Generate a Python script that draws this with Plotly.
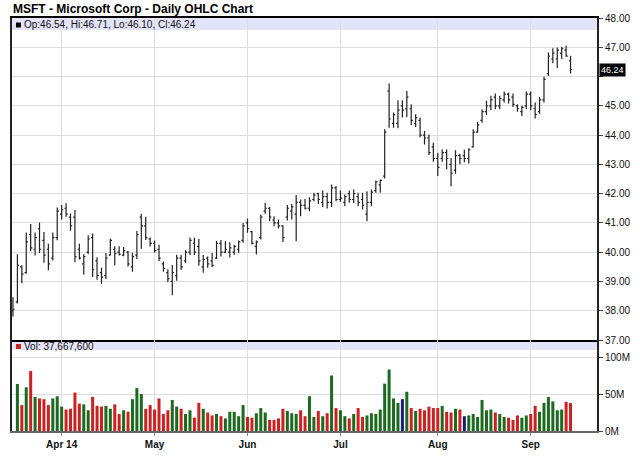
import pandas as pd
import plotly.graph_objects as go

# ---------------- data ----------------
holidays = ["2014-04-18", "2014-05-26", "2014-07-04", "2014-09-01"]
days = [d.strftime("%Y-%m-%d") for d in pd.bdate_range("2014-03-17", "2014-09-15")
        if d.strftime("%Y-%m-%d") not in holidays]

open_ = [38.0, 38.3, 39.5, 39.3, 40.6, 40.1, 40.8, 40.4, 40.1, 39.8,
         40.5, 41.3, 41.5, 41.2, 41.2, 40.1, 39.6, 40.0, 40.5, 39.7,
         39.3, 39.2, 39.9, 40.1, 40.0, 39.9, 40.0, 39.5, 39.9, 41.2,
         40.9, 40.45, 40.3, 40.1, 39.6, 39.3, 39.0, 39.2, 39.8, 39.7,
         40.0, 40.3, 40.2, 39.5, 39.8, 39.7, 39.8, 40.3, 40.0, 40.0,
         40.0, 40.1, 40.4, 41.0, 40.7, 40.2, 40.5, 41.4, 41.5, 41.1,
         41.0, 40.9, 41.2, 41.4, 41.3, 41.7, 41.6, 41.5, 41.8, 42.0,
         41.7, 41.9, 41.7, 42.2, 41.8, 41.7, 42.0, 41.8, 41.9, 41.8,
         41.3, 41.7, 42.1, 42.3, 42.6, 45.5, 44.4, 44.4, 45.0, 44.9,
         44.9, 44.4, 44.5, 44.0, 43.9, 43.6, 43.2, 43.2, 43.4, 43.0,
         42.8, 43.3, 43.3, 43.2, 43.6, 44.1, 44.5, 44.8, 45.0, 45.3,
         45.0, 45.2, 45.4, 45.3, 45.0, 44.8, 45.0, 45.4, 44.9, 44.8,
         45.2, 46.1, 46.6, 46.6, 46.8, 46.9, 46.54]

high = [38.46, 39.93, 39.55, 40.67, 40.96, 40.67, 41.01, 40.69, 40.29, 40.67,
        41.53, 41.61, 41.67, 41.32, 41.44, 40.29, 39.93, 40.58, 40.64, 39.83,
        39.47, 39.97, 40.47, 40.20, 40.20, 40.18, 40.04, 39.98, 40.72, 41.31,
        41.21, 40.50, 40.40, 40.25, 39.68, 39.42, 39.56, 39.91, 39.91, 40.07,
        40.50, 40.49, 40.45, 39.90, 39.85, 39.97, 40.38, 40.42, 40.37, 40.34,
        40.25, 40.40, 41.00, 41.15, 40.72, 40.40, 41.29, 41.69, 41.54, 41.23,
        41.12, 40.92, 41.61, 41.65, 41.95, 41.80, 41.82, 41.88, 42.03, 42.03,
        42.11, 42.03, 42.31, 42.26, 42.11, 41.97, 42.10, 42.14, 42.03, 42.03,
        42.08, 42.14, 42.45, 42.48, 44.20, 45.76, 44.77, 45.19, 45.19, 45.51,
        45.05, 44.71, 44.60, 44.14, 44.02, 43.74, 43.40, 43.51, 43.51, 43.22,
        43.48, 43.36, 43.50, 43.55, 44.20, 44.46, 44.88, 45.17, 45.34, 45.42,
        45.34, 45.49, 45.45, 45.42, 45.05, 45.00, 45.49, 45.49, 45.11, 45.30,
        45.99, 46.82, 46.97, 46.99, 47.02, 47.05, 46.71]

low = [37.80, 38.25, 38.94, 39.26, 40.03, 39.89, 39.97, 39.64, 39.38, 39.72,
       40.41, 41.12, 41.21, 40.73, 39.66, 39.75, 39.23, 39.93, 39.15, 39.06,
       38.92, 39.08, 39.89, 39.55, 39.89, 39.86, 39.51, 39.33, 39.77, 40.12,
       40.42, 40.19, 39.99, 39.70, 39.33, 38.98, 38.53, 39.02, 39.39, 39.64,
       39.90, 39.90, 39.54, 39.30, 39.47, 39.49, 39.77, 39.85, 39.97, 39.82,
       39.91, 39.98, 40.32, 40.66, 40.26, 39.92, 40.43, 41.31, 41.06, 40.89,
       40.81, 40.35, 41.08, 41.12, 40.37, 41.23, 41.46, 41.40, 41.74, 41.65,
       41.54, 41.49, 41.54, 41.74, 41.72, 41.57, 41.69, 41.68, 41.57, 41.46,
       41.06, 41.57, 42.03, 42.03, 42.52, 44.25, 44.25, 44.23, 44.60, 44.62,
       44.34, 44.28, 43.93, 43.68, 43.32, 43.09, 42.60, 43.09, 42.83, 42.25,
       42.68, 43.00, 43.07, 43.03, 43.57, 44.08, 44.42, 44.69, 44.85, 44.88,
       44.88, 45.11, 45.08, 44.96, 44.80, 44.65, 44.88, 44.85, 44.57, 44.73,
       45.11, 46.02, 46.45, 46.29, 46.60, 46.68, 46.10]

close = [38.05, 39.55, 39.25, 40.35, 40.15, 40.5, 40.1, 39.9, 39.6, 40.5,
         41.4, 41.45, 41.3, 40.9, 39.85, 39.8, 39.85, 40.45, 39.4, 39.2,
         39.15, 39.8, 40.4, 39.95, 39.93, 40.05, 39.6, 39.85, 40.6, 40.9,
         40.5, 40.3, 40.05, 39.8, 39.45, 39.1, 39.3, 39.8, 39.5, 40.0,
         40.4, 40.0, 39.7, 39.75, 39.6, 39.55, 40.3, 40.0, 40.1, 40.15,
         40.2, 40.35, 40.9, 40.8, 40.3, 40.35, 41.2, 41.5, 41.2, 41.0,
         40.9, 40.5, 41.5, 41.55, 41.7, 41.6, 41.5, 41.75, 41.95, 41.8,
         41.9, 41.7, 42.2, 41.8, 41.85, 41.9, 41.8, 42.0, 41.7, 41.6,
         41.7, 42.05, 42.4, 42.45, 44.1, 44.55, 44.7, 44.85, 44.85, 45.3,
         44.5, 44.6, 44.0, 43.9, 43.4, 43.2, 42.9, 43.4, 43.2, 42.7,
         43.3, 43.2, 43.2, 43.5, 44.1, 44.35, 44.8, 45.0, 45.2, 45.0,
         45.25, 45.4, 45.2, 45.05, 44.9, 44.95, 45.4, 45.0, 44.7, 45.2,
         45.9, 46.7, 46.8, 46.9, 46.95, 46.7, 46.24]

volume_m = [None, 63.6, 35, 59, 81, 46, 44, 43, 35, 44,
            47, 33, 29, 30, 52, 37, 36, 28, 46, 34,
            33, 34, 30, 36, 23, 28, 26, 43, 58, 50,
            30, 35, 29, 44, 23, 28, 42, 33, 30, 23,
            28, 18, 38, 30, 25, 21, 23, 20, 17, 26,
            26, 20, 35, 19, 18, 24, 31, 25, 15, 15,
            17, 30, 27, 24, 23, 28, 20, 47, 19, 27,
            20, 24, 75, 31, 28, 20, 17, 23, 31, 19,
            21, 24, 23, 29, 64, 83, 44, 38, 43, 53,
            31, 27, 30, 28, 33, 31, 31, 34, 26, 25,
            30, 29, 20, 21, 23, 19, 42, 28, 29, 25,
            23, 19, 18, 15, 21, 18, 21, 23, 34, 26,
            38, 46, 40, 28, 29, 39.5, 37.6676]
last_volume = 37667600

month_ticks = ["2014-04-01", "2014-05-01", "2014-06-02", "2014-07-01", "2014-08-01", "2014-09-02"]
month_labels = ["Apr 14", "May", "Jun", "Jul", "Aug", "Sep"]
price_ticks = [37, 38, 39, 40, 41, 42, 43, 44, 45, 46, 47, 48]
price_labels = ["37.00", "38.00", "39.00", "40.00", "41.00", "42.00", "43.00",
                "44.00", "45.00", "", "47.00", "48.00"]
vol_ticks = [0, 50, 100]
vol_labels = ["0M", "50M", "100M"]

assert len(days) == len(open_) == len(high) == len(low) == len(close) == len(volume_m) == 127

# ---------------- styling ----------------
GREEN, RED, NAVY = "#1b6a1f", "#cc2121", "#1a1a7a"
BAND = "#e4e4f8"
GRID = "#dddddd"
FONT = "Liberation Sans, Arial, sans-serif"

vol_colors = [NAVY]
for i in range(1, len(close)):
    if close[i] > close[i - 1]:
        vol_colors.append(GREEN)
    elif close[i] < close[i - 1]:
        vol_colors.append(RED)
    else:
        vol_colors.append(NAVY)

W, H = 640, 468
L, R, T, B = 10, 601, 18, 431          # plot area in pixels
SPLIT = 340                            # pixel row between the two panels
PW, PH = R - L, B - T


def px_x(p):
    return (p - L) / PW


def px_y(p):
    return (B - p) / PH


split_frac = px_y(SPLIT)
vol_top = 100 * (B - SPLIT) / (B - 357)   # 100M sits at y=357
band_bottom_vol = vol_top * (B - 350) / (B - SPLIT)
n_span = 132.2
x_range = [-0.22, -0.22 + n_span]

fig = go.Figure()
fig.add_trace(go.Ohlc(
    x=days, open=open_, high=high, low=low, close=close,
    increasing=dict(line=dict(color="#222222", width=1.2)),
    decreasing=dict(line=dict(color="#222222", width=1.2)),
    tickwidth=0.38, xaxis="x", yaxis="y", showlegend=False, hoverinfo="skip"))
fig.add_trace(go.Bar(
    x=days, y=volume_m, marker=dict(color=vol_colors, line=dict(width=0)),
    xaxis="x2", yaxis="y2", showlegend=False, hoverinfo="skip"))

common_x = dict(type="category", range=x_range, tickvals=month_ticks,
                showgrid=True, gridcolor=GRID, gridwidth=1, zeroline=False)

fig.update_layout(
    width=W, height=H, paper_bgcolor="white", plot_bgcolor="white",
    margin=dict(l=L, r=W - R, t=T, b=H - B, pad=0),
    bargap=0.32, showlegend=False,
    font=dict(family=FONT, size=10, color="#000"),
    xaxis=dict(**common_x, anchor="y", domain=[0, 1], showticklabels=False,
               showline=True, linecolor="#000", linewidth=2, mirror=True, ticks="",
               rangeslider=dict(visible=False)),
    xaxis2=dict(**common_x, anchor="y2", domain=[0, 1], ticktext=month_labels,
                tickfont=dict(family=FONT, size=10, color="#111", weight="bold"),
                showline=True, linecolor="#666", linewidth=2, ticks="outside",
                ticklen=3, tickcolor="#888"),
    yaxis=dict(domain=[split_frac, 1], range=[37, 48], side="right",
               tickvals=price_ticks, ticktext=price_labels,
               tickfont=dict(family=FONT, size=10, color="#111"),
               ticks="outside", ticklen=4, tickcolor="#444", tickwidth=1,
               showline=True, linecolor="#222", linewidth=2, mirror=True,
               showgrid=True, gridcolor=GRID, zeroline=False),
    yaxis2=dict(domain=[0, split_frac], range=[0, vol_top], side="right",
                tickvals=vol_ticks, ticktext=vol_labels,
                tickfont=dict(family=FONT, size=10, color="#111"),
                ticks="outside", ticklen=4, tickcolor="#444", tickwidth=1,
                showline=True, linecolor="#222", linewidth=2, mirror=True,
                showgrid=True, gridcolor=GRID, zeroline=False),
)

# header bands
fig.add_shape(type="rect", xref="paper", yref="y", x0=0, x1=1, y0=48 - 12 / 29.2, y1=48,
              fillcolor=BAND, line=dict(width=0), layer="below")
fig.add_shape(type="rect", xref="paper", yref="y2", x0=0, x1=1, y0=band_bottom_vol, y1=vol_top,
              fillcolor=BAND, line=dict(width=0), layer="below")
# legend squares
fig.add_shape(type="rect", xref="paper", yref="paper", x0=px_x(14), x1=px_x(19),
              y0=px_y(27.5), y1=px_y(22.5), fillcolor="#000", line=dict(width=0))
fig.add_shape(type="rect", xref="paper", yref="paper", x0=px_x(14), x1=px_x(19),
              y0=px_y(349), y1=px_y(344), fillcolor=RED, line=dict(width=0))

fig.add_annotation(xref="paper", yref="paper", x=px_x(9), y=px_y(9), xanchor="left",
                   yanchor="middle", showarrow=False,
                   text="MSFT - Microsoft Corp - Daily OHLC Chart",
                   font=dict(family=FONT, size=12, color="#000", weight="bold"))
fig.add_annotation(xref="paper", yref="paper", x=px_x(20), y=px_y(25), xanchor="left",
                   yanchor="middle", showarrow=False,
                   text=f"Op:{open_[-1]:.2f}, Hi:{high[-1]:.2f}, Lo:{low[-1]:.2f}, Cl:{close[-1]:.2f}",
                   font=dict(family=FONT, size=10, color="#111"))
fig.add_annotation(xref="paper", yref="paper", x=px_x(20), y=px_y(346.5), xanchor="left",
                   yanchor="middle", showarrow=False,
                   text=f"Vol: {last_volume:,}",
                   font=dict(family=FONT, size=10, color="#111"))
fig.add_annotation(xref="paper", yref="y", x=1, y=close[-1], xanchor="left", xshift=2,
                   yanchor="middle", showarrow=False, text=f"{close[-1]:.2f}",
                   bgcolor="#000", borderpad=1,
                   font=dict(family=FONT, size=9, color="#fff"))

fig.write_html("out.html", config={"displayModeBar": False},
               post_script="document.body.style.margin='0px';")
